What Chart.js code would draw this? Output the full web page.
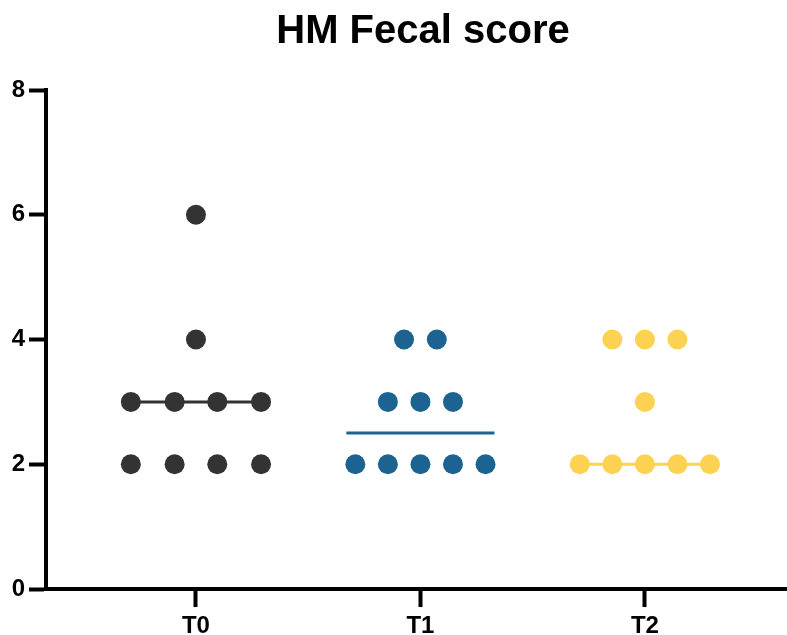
<!DOCTYPE html>
<html>
<head>
<meta charset="utf-8">
<script src="https://cdn.jsdelivr.net/npm/chart.js@4/dist/chart.umd.min.js"></script>
<style>
html,body{margin:0;padding:0;background:#fff;}
#wrap{width:787px;height:635px;position:relative;}
</style>
</head>
<body>
<div id="wrap"><canvas id="c"></canvas></div>
<script>
const title = 'HM Fecal score';
const categories = ['T0', 'T1', 'T2'];
const yTicks = [0, 2, 4, 6, 8];
const t0Values = [6, 4, 3, 3, 3, 3, 2, 2, 2, 2];
const t0Jitter = [0, 0, -0.29, -0.095, 0.095, 0.29, -0.29, -0.095, 0.095, 0.29];
const t1Values = [4, 4, 3, 3, 3, 2, 2, 2, 2, 2];
const t1Jitter = [-0.073, 0.073, -0.145, 0, 0.145, -0.29, -0.145, 0, 0.145, 0.29];
const t2Values = [4, 4, 4, 3, 2, 2, 2, 2, 2];
const t2Jitter = [-0.145, 0, 0.145, 0, -0.29, -0.145, 0, 0.145, 0.29];
const medians = [3, 2.5, 2];
const colors = ['#333333', '#1d6392', '#fdd252'];

const groups = [[t0Values, t0Jitter], [t1Values, t1Jitter], [t2Values, t2Jitter]];
const FONT = '"Liberation Sans", Arial, Helvetica, sans-serif';
const halfW = 0.33;

const datasets = [];
groups.forEach((g, i) => {
  datasets.push({
    type: 'scatter',
    label: categories[i],
    data: g[0].map((v, k) => ({x: i + g[1][k], y: v})),
    backgroundColor: colors[i],
    borderColor: colors[i],
    borderWidth: 0,
    pointRadius: 10,
    pointHoverRadius: 10,
    order: 1,
    clip: false
  });
  datasets.push({
    type: 'line',
    label: categories[i] + ' median',
    data: [{x: i - halfW, y: medians[i]}, {x: i + halfW, y: medians[i]}],
    borderColor: colors[i],
    borderWidth: 3,
    pointRadius: 0,
    fill: false,
    order: 2
  });
});

const titlePlugin = {
  id: 'titleText',
  afterDraw(chart) {
    const ctx = chart.ctx;
    ctx.save();
    ctx.fillStyle = '#000';
    ctx.font = 'bold 40px ' + FONT;
    ctx.textAlign = 'center';
    ctx.textBaseline = 'alphabetic';
    ctx.fillText(title, 423, 43);
    ctx.restore();
  }
};

new Chart(document.getElementById('c'), {
  type: 'scatter',
  data: {datasets},
  plugins: [titlePlugin],
  options: {
    responsive: true,
    maintainAspectRatio: false,
    animation: false,
    layout: {autoPadding: false, padding: {left: 0, right: 0, top: 90, bottom: 0}},
    plugins: {
      legend: {display: false},
      tooltip: {enabled: false},
      title: {display: false}
    },
    scales: {
      x: {
        type: 'linear',
        min: -0.668,
        max: 2.633,
        afterBuildTicks: s => { s.ticks = categories.map((c, i) => ({value: i})); },
        afterFit: s => { s.height = 46; },
        ticks: {
          callback: v => categories[v],
          color: '#000',
          font: {family: FONT, size: 24, weight: 'bold'},
          padding: 5,
          maxRotation: 0,
          autoSkip: false
        },
        grid: {drawOnChartArea: false, drawTicks: true, tickLength: 18, tickWidth: 4, tickColor: '#000'},
        border: {display: true, width: 4, color: '#000'}
      },
      y: {
        min: 0,
        max: 8,
        afterBuildTicks: s => { s.ticks = yTicks.map(v => ({value: v})); },
        afterFit: s => { s.width = 46; },
        ticks: {
          color: '#000',
          font: {family: FONT, size: 24, weight: 'bold'},
          padding: 4
        },
        grid: {drawOnChartArea: false, drawTicks: true, tickLength: 17, tickWidth: 4, tickColor: '#000'},
        border: {display: true, width: 4, color: '#000'}
      }
    }
  }
});
</script>
</body>
</html>
